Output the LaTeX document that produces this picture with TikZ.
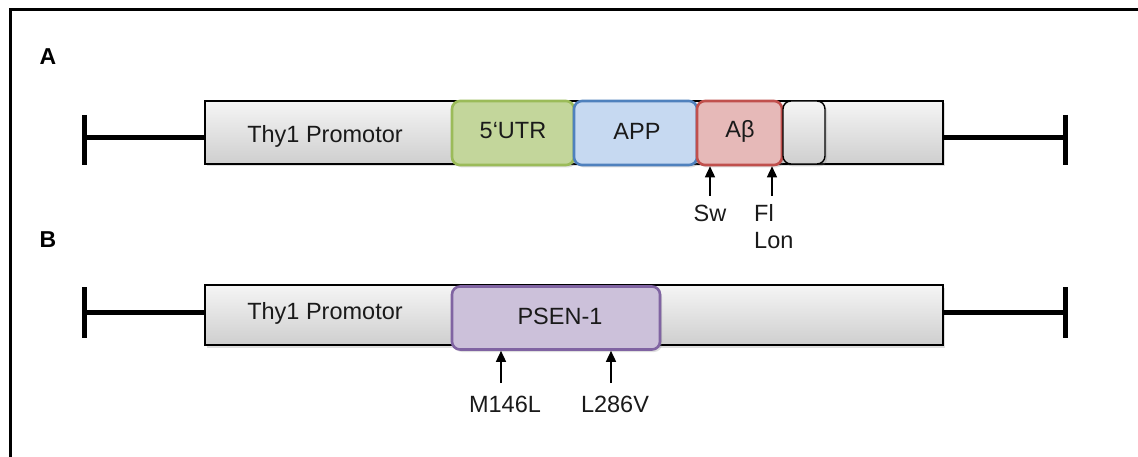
\documentclass[tikz,border=0pt]{standalone}
\usepackage{fontspec}
\setmainfont{Liberation Sans}
\usetikzlibrary{shadows,arrows.meta}
\definecolor{utrfill}{HTML}{C3D69B}
\definecolor{utrdraw}{HTML}{9BBB59}
\definecolor{appfill}{HTML}{C6D9F1}
\definecolor{appdraw}{HTML}{4F81BD}
\definecolor{abfill}{HTML}{E6B9B8}
\definecolor{abdraw}{HTML}{C0504D}
\definecolor{psfill}{HTML}{CCC1DA}
\definecolor{psdraw}{HTML}{8064A2}
\definecolor{txt}{HTML}{1A1A1A}
\begin{document}
\begin{tikzpicture}[x=1pt,y=-1pt,
  shadowed/.style={drop shadow={opacity=0.25,shadow xshift=2pt,shadow yshift=-2.5pt}},
  graybox/.style={draw=black,line width=1.4pt,rectangle,inner sep=0pt,
    top color=gray!8,bottom color=gray!38,shadowed},
  genebox/.style={rectangle,rounded corners=8pt,line width=2.6pt,inner sep=0pt,shadowed},
  boxtext/.style={text=txt,font=\fontsize{23.5}{27}\selectfont},
  labtext/.style={text=txt,font=\fontsize{23.5}{28}\selectfont,inner sep=0pt},
  bigline/.style={line width=5pt},
  arr/.style={line width=1.5pt,-{Triangle[length=11pt,width=10pt]}},
  panel/.style={font=\bfseries\fontsize{23}{26}\selectfont}]
\useasboundingbox (0,0) rectangle (1138,457);
\fill[white] (0,0) rectangle (1138,457);
% frame
\coordinate (fb) at (10,457);
\coordinate (fc) at (10,10);
\coordinate (fr) at (1138,10);
\draw[line width=3pt] (fb) -- (fc) -- (fr);
% panel labels
\node[panel] (pA) at (48,57) {A};
\node[panel] (pB) at (48,240) {B};

% ---------------- Row A
\coordinate (aL) at (84,138);
\coordinate (aR) at (1065,138);
\draw[bigline] (84,115) -- (84,165);
\draw[bigline] (1065,115) -- (1065,165);
\node[graybox,minimum width=738pt,minimum height=63pt] (ga) at (574,132.5) {};
\draw[bigline] (aL) -- (aL -| ga.west);
\draw[bigline] (aR) -- (aR -| ga.east);
\node[boxtext] (thyA) at (325,136) {Thy1 Promotor};
\node[genebox,fill=utrfill,draw=utrdraw,minimum width=122pt,minimum height=64pt] (utr) at (513,133) {};
\node[genebox,fill=appfill,draw=appdraw,minimum width=123pt,minimum height=64pt] (app) at (635.5,133) {};
\node[genebox,fill=abfill,draw=abdraw,minimum width=85pt,minimum height=64pt] (ab) at (739.5,133) {};
\node[genebox,line width=1.4pt,draw=black,top color=gray!8,bottom color=gray!38,minimum width=42pt,minimum height=63pt] (sm) at (804,132.5) {};
\node[boxtext] at (513,131) {5‘UTR};
\node[boxtext] at (637,131) {APP};
\node[boxtext] at (740,131) {Aβ};
% mutations A
\node[labtext] (sw) at (710,213) {Sw};
\node[labtext,anchor=west] (fl) at (754,213) {Fl};
\node[labtext,anchor=west] (lon) at (754,241) {Lon};
\coordinate (swT) at (710,196);
\coordinate (flT) at (772,196);
\draw[arr] (swT) -- (swT |- ab.south);
\draw[arr] (flT) -- (flT |- ab.south);

% ---------------- Row B
\coordinate (bL) at (84,312);
\coordinate (bR) at (1065,312);
\draw[bigline] (84,287) -- (84,338);
\draw[bigline] (1065,287) -- (1065,338);
\node[graybox,minimum width=738pt,minimum height=60pt] (gb) at (574,315) {};
\draw[bigline] (bL) -- (bL -| gb.west);
\draw[bigline] (bR) -- (bR -| gb.east);
\node[boxtext] (thyB) at (325,313) {Thy1 Promotor};
\node[genebox,fill=psfill,draw=psdraw,minimum width=208pt,minimum height=63pt] (ps) at (556,318) {};
\node[boxtext] at (560,316) {PSEN-1};
\node[labtext] (m146) at (505,404) {M146L};
\node[labtext] (l286) at (615,404) {L286V};
\coordinate (mT) at (501,383);
\coordinate (lT) at (611,383);
\draw[arr] (mT) -- (mT |- ps.south);
\draw[arr] (lT) -- (lT |- ps.south);
\end{tikzpicture}
\end{document}
